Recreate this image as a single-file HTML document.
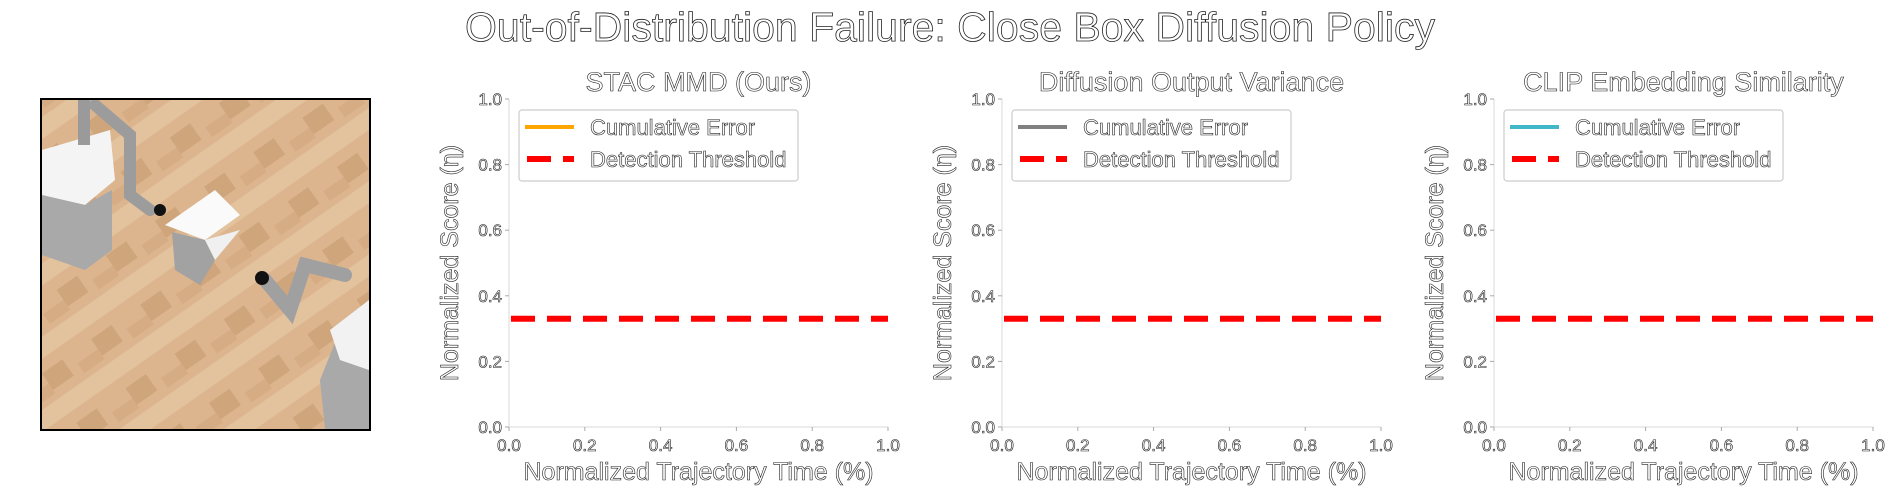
<!DOCTYPE html>
<html><head><meta charset="utf-8">
<style>
html,body{margin:0;padding:0;background:#fff;width:1900px;height:500px;overflow:hidden}
svg text{font-family:"Liberation Sans",sans-serif;fill:#fff;stroke:#222;stroke-width:0.6}
</style></head>
<body>
<svg id="fig" width="1900" height="500" viewBox="0 0 1900 500" xmlns="http://www.w3.org/2000/svg">
<text x="950" y="41" font-size="41" text-anchor="middle" style="stroke-width:0.8">Out-of-Distribution Failure: Close Box Diffusion Policy</text>
<g>
  <defs>
    <clipPath id="imgclip"><rect x="42" y="100" width="327" height="329"/></clipPath>
    <pattern id="wood" width="60" height="60" patternUnits="userSpaceOnUse" patternTransform="rotate(-35)">
      <rect width="60" height="60" fill="#dcb58f"/>
      <rect width="60" height="18" y="0" fill="#e3c29e"/>
      <rect width="25" height="20" y="30" fill="#cfa57c"/>
      <rect x="35" width="25" height="12" y="42" fill="#d6ac84"/>
    </pattern>
  </defs>
  <rect x="41" y="99" width="329" height="331" fill="none" stroke="#000" stroke-width="2"/>
  <g clip-path="url(#imgclip)">
    <rect x="42" y="100" width="327" height="329" fill="url(#wood)"/>
    <polygon points="42,150 110,130 115,180 85,205 42,195" fill="#f4f4f4"/>
    <polygon points="42,195 85,205 112,190 112,250 85,270 42,255" fill="#a9a9a9"/>
    <rect x="78" y="100" width="12" height="45" fill="#9a9a9a"/>
    <path d="M95,105 L130,135 L130,195 L150,210" stroke="#9c9c9c" stroke-width="12" fill="none" stroke-linecap="round"/>
    <circle cx="160" cy="210" r="6" fill="#111"/>
    <polygon points="165,225 215,190 240,215 205,240" fill="#fafafa"/>
    <polygon points="172,232 205,240 215,260 200,285 175,270" fill="#a2a2a2"/>
    <polygon points="205,240 240,230 215,260" fill="#f0f0f0"/>
    <path d="M265,280 L290,310 L305,265 L345,275" stroke="#a0a0a0" stroke-width="14" fill="none" stroke-linecap="round"/>
    <circle cx="262" cy="278" r="7" fill="#111"/>
    <polygon points="340,330 369,300 369,429 325,429 320,380" fill="#a9a9a9"/>
    <polygon points="330,330 369,300 369,370 340,360" fill="#f2f2f2"/>
  </g>
</g>
<g id="plots"></g>
</svg>
<script>
const panelTitles = ["STAC MMD (Ours)", "Diffusion Output Variance", "CLIP Embedding Similarity"];
const seriesColors = ["#ffa500", "#808080", "#40b8c8"];
const thresholdValues = [0.33, 0.33, 0.33];
const cumulativeErrorX = [[], [], []];
const cumulativeErrorY = [[], [], []];
const tickValues = [0, 0.2, 0.4, 0.6, 0.8, 1.0];
const tickLabels = ["0.0", "0.2", "0.4", "0.6", "0.8", "1.0"];

const NS = "http://www.w3.org/2000/svg";
const plotsRoot = document.getElementById("plots");
function mk(tag, attrs, parent){const e=document.createElementNS(NS,tag);for(const k in attrs)e.setAttribute(k,attrs[k]);parent.appendChild(e);return e;}

const panelLefts = [509, 1002, 1494];
const plotW = 379, plotTop = 99, plotBottom = 427;
panelTitles.forEach((title, i) => {
  const x0 = panelLefts[i];
  const xs = v => x0 + v * plotW;
  const ys = v => plotBottom - v * (plotBottom - plotTop);
  const g = mk("g", {}, plotsRoot);
  
  
  const t = mk("text", {x: x0 + plotW/2, y: 91, "font-size": 27, "text-anchor": "middle"}, g);
  t.textContent = title;
  
  
  const ax = mk("path", {d: `M${x0},${plotTop} V${plotBottom} H${x0+plotW}`, stroke: "#e6e6e6", "stroke-width": 1.5, fill: "none"}, g);
  
  
  tickValues.forEach((v, k) => {
    mk("line", {x1: x0-4, x2: x0, y1: ys(v), y2: ys(v), stroke: "#aaa"}, g);
    const yl = mk("text", {x: x0-7, y: ys(v)+6, "font-size": 17, "text-anchor": "end"}, g);
    yl.textContent = tickLabels[k];
    
    
    mk("line", {x1: xs(v), x2: xs(v), y1: plotBottom, y2: plotBottom+4, stroke: "#aaa"}, g);
    const xl = mk("text", {x: xs(v), y: 451, "font-size": 17, "text-anchor": "middle"}, g);
    xl.textContent = tickLabels[k];
    
    
  });
  const xt = mk("text", {x: x0 + plotW/2, y: 480, "font-size": 25, "text-anchor": "middle"}, g);
  xt.textContent = "Normalized Trajectory Time (%)";
  
  
  const yt = mk("text", {x: 0, y: 0, "font-size": 25, "text-anchor": "middle", transform: `translate(${x0-51},${(plotTop+plotBottom)/2}) rotate(-90)`}, g);
  yt.textContent = "Normalized Score (η)";
  
  
  if (cumulativeErrorX[i].length) {
    const pl = mk("polyline", {points: cumulativeErrorX[i].map((v,k)=>xs(v)+","+ys(cumulativeErrorY[i][k])).join(" "), stroke: seriesColors[i], "stroke-width": 4, fill: "none"}, g);
    
    
  }
  const th = mk("line", {x1: xs(0)+2, x2: xs(1), y1: ys(thresholdValues[i]), y2: ys(thresholdValues[i]), stroke: "#ff0000", "stroke-width": 6, "stroke-dasharray": "24,12"}, g);
  
  
  const lg = mk("g", {}, g);
  
  
  mk("rect", {x: x0+10, y: 110, width: 279, height: 71, rx: 3, fill: "#fff", stroke: "#ccc", "stroke-width": 1.2}, lg);
  mk("line", {x1: x0+16, x2: x0+65, y1: 127, y2: 127, stroke: seriesColors[i], "stroke-width": 4}, lg);
  mk("line", {x1: x0+18, x2: x0+65, y1: 159, y2: 159, stroke: "#ff0000", "stroke-width": 6, "stroke-dasharray": "24,12"}, lg);
  const l1 = mk("text", {x: x0+81, y: 135, "font-size": 22}, lg);
  l1.textContent = "Cumulative Error";
  
  
  const l2 = mk("text", {x: x0+81, y: 167, "font-size": 22}, lg);
  l2.textContent = "Detection Threshold";
  
  
});
</script>
</body></html>
